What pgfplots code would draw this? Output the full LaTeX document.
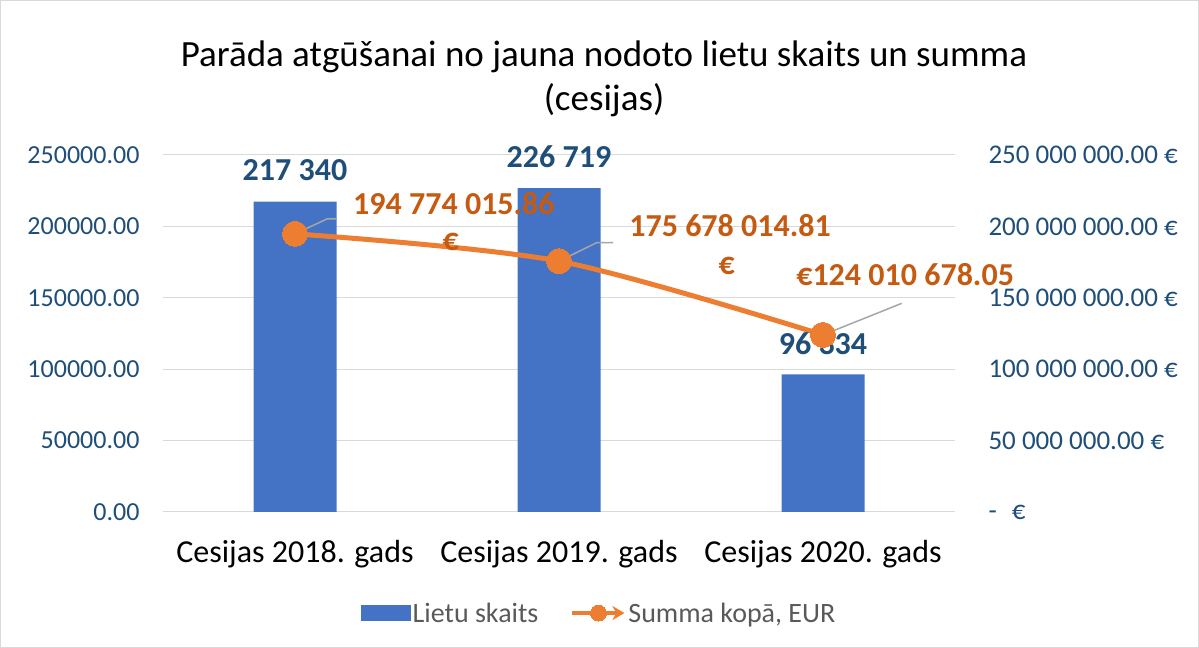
\documentclass[border=0pt]{standalone}
\usepackage{pgfplots}
\pgfplotsset{compat=1.18}
\usepackage{fontspec}
\setmainfont{Carlito}
\usetikzlibrary{arrows.meta}
\definecolor{barblue}{HTML}{4472C4}
\definecolor{lineorange}{HTML}{ED7D31}
\definecolor{labelorange}{HTML}{C55A11}
\definecolor{darkblue}{HTML}{1F4E79}
\definecolor{gridgray}{HTML}{D9D9D9}
\definecolor{leadgray}{HTML}{A6A6A6}
\definecolor{legendgray}{HTML}{595959}
\newcommand{\tickfont}{\fontsize{26bp}{31bp}\selectfont}
\newcommand{\rtickfont}{\fontsize{27bp}{32bp}\selectfont}
\newcommand{\catfont}{\fontsize{32bp}{38bp}\selectfont}
\newcommand{\lblfont}{\fontsize{32bp}{38bp}\selectfont\bfseries}
\newcommand{\legfont}{\fontsize{28bp}{34bp}\selectfont}
\pgfplotsset{
  barlegend/.style={legend image code/.code={\fill[##1] (0bp,-8bp) rectangle (50bp,8bp);}},
  linelegend/.style={legend image code/.code={\draw[mark repeat=2,mark phase=2,##1, line width=4bp, mark size=8bp] plot coordinates {(0bp,0bp) (26bp,0bp) (52bp,0bp)};}},
}
\begin{document}
\begin{tikzpicture}
\draw[gridgray, line width=1bp] (0.5bp,0.5bp) rectangle (1198.5bp,647.5bp);
\node[font=\fontsize{37bp}{44bp}\selectfont, align=center, text=black] at (604bp,569bp) {Parāda atgūšanai no jauna nodoto lietu skaits un summa\\(cesijas)};
\begin{axis}[
  at={(163bp,136bp)}, anchor=south west,
  scale only axis, width=792bp, height=357bp,
  xmin=-0.5, xmax=2.5, ymin=0, ymax=250000,
  xtick={0,1,2},
  xticklabels={Cesijas 2018. gads, Cesijas 2019. gads, Cesijas 2020. gads},
  ytick={0,50000,100000,150000,200000,250000},
  yticklabels={0.00,50000.00,100000.00,150000.00,200000.00,250000.00},
  scaled y ticks=false,
  axis line style={draw=none}, major tick length=0pt,
  ymajorgrids, grid style={gridgray, line width=1bp},
  yticklabel style={font=\tickfont, text=darkblue, xshift=-20bp},
  xticklabel style={font=\catfont, text=black, yshift=-25bp},
  ybar, bar width=83bp,
]
\addplot[fill=barblue, draw=none, bar shift=0pt] coordinates {(0,217340) (1,226719) (2,96334)};
\end{axis}
\begin{axis}[
  at={(163bp,136bp)}, anchor=south west,
  scale only axis, width=792bp, height=357bp,
  xmin=-0.5, xmax=2.5, ymin=0, ymax=250000000,
  axis x line=none, axis y line*=right,
  axis line style={draw=none}, major tick length=0pt,
  ytick={0,50000000,100000000,150000000,200000000,250000000},
  yticklabels={-\hspace{15bp}€, 50 000 000.00 €, 100 000 000.00 €, 150 000 000.00 €, 200 000 000.00 €, 250 000 000.00 €},
  yticklabel style={font=\rtickfont, text=darkblue, anchor=west, xshift=30bp},
  scaled y ticks=false,
  clip=false,
  legend columns=2,
  legend style={at={(0.5505,-0.283)}, anchor=center, draw=none, fill=none,
    font=\legfont, text=legendgray,
    /tikz/every even column/.append style={column sep=30bp}},
]
\addlegendimage{fill=barblue, draw=none, barlegend}
\addlegendentry{Lietu skaits}
\addplot[lineorange, line width=5bp, smooth, mark=*, mark size=12.5bp,
  mark options={fill=lineorange, draw=lineorange, line width=0pt},
  -{Stealth[length=12bp,width=14bp]}, linelegend]
  coordinates {(0,194774015.86) (1,175678014.81) (2,124010678.05)};
\addlegendentry{Summa kopā, EUR}
\draw[leadgray, line width=1.5bp] (axis cs:0,194774015.86) -- (axis cs:0.121,205.2e6) -- (axis cs:0.159,205.2e6);
\draw[leadgray, line width=1.5bp] (axis cs:1,175678014.81) -- (axis cs:1.143,188.6e6) -- (axis cs:1.205,188.6e6);
\draw[leadgray, line width=1.5bp] (axis cs:2,124010678.05) -- (axis cs:2.298,146.1e6);
\node[text=labelorange, font=\lblfont] at (axis cs:0.602,216.2e6) {194 774 015.86};
\node[text=labelorange, font=\lblfont] at (axis cs:0.59,189.3e6) {€};
\node[text=labelorange, font=\lblfont] at (axis cs:1.648,200.5e6) {175 678 014.81};
\node[text=labelorange, font=\lblfont] at (axis cs:1.635,172.5e6) {€};
\node[text=labelorange, font=\lblfont] at (axis cs:2.311,166e6) {€124 010 678.05};
\node[text=darkblue, font=\lblfont] at (axis cs:0,239.5e6) {217 340};
\node[text=darkblue, font=\lblfont] at (axis cs:1,248.8e6) {226 719};
\node[text=darkblue, font=\lblfont] at (axis cs:2,117.6e6) {96 334};
\end{axis}
\end{tikzpicture}
\end{document}
